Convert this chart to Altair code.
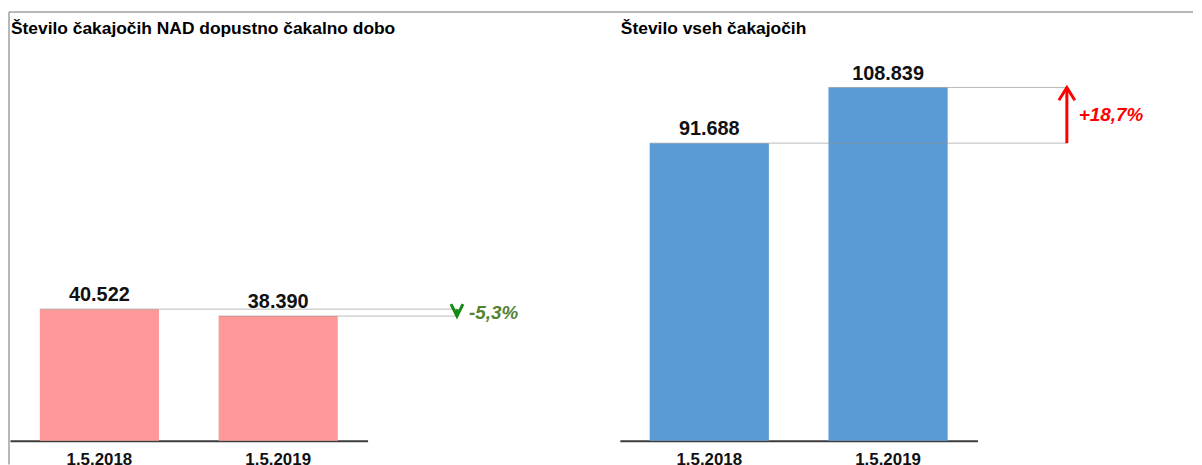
import altair as alt
import pandas as pd

# ---- data ----
dates = ["1.5.2018", "1.5.2019"]
over_limit = [40522, 38390]
all_waiting = [91688, 108839]
title_left = "Število čakajočih NAD dopustno čakalno dobo"
title_right = "Število vseh čakajočih"

FONT = "Liberation Sans"
W, H = 360, 392
Y_MAX = 120000
ARROW_X = 450
PCT_X = ARROW_X + 12


def fmt_int(v):
    return f"{v:,}".replace(",", ".")


def fmt_pct(a, b):
    p = (b / a - 1) * 100
    return f"{p:+.1f}".replace(".", ",") + "%"


def panel(values, title, bar_color, arrow_color, pct_color, with_frame=False):
    bars_df = pd.DataFrame({"date": dates, "value": values,
                            "label": [fmt_int(v) for v in values]})
    a, b = values
    ann_df = pd.DataFrame({"start": [a], "end": [b], "mid": [(a + b) / 2],
                           "pct": [fmt_pct(a, b)], "title": [title]})
    xs = alt.Scale(domain=dates, paddingInner=1 / 3, paddingOuter=1 / 6)
    ys = alt.Scale(domain=[0, Y_MAX], nice=False, zero=True)
    x_axis = alt.Axis(title=None, ticks=False, tickSize=0, labelAngle=0,
                      labelPadding=11, labelFontSize=17, labelFontWeight="bold",
                      labelFont=FONT, labelColor="#111111",
                      domainColor="#3c3c3c", domainWidth=2, grid=False)
    base = alt.Chart(bars_df)
    bars = base.mark_bar(color=bar_color).encode(
        x=alt.X("date:N", scale=xs, sort=dates, axis=x_axis),
        y=alt.Y("value:Q", scale=ys, axis=None),
    )
    labels = base.mark_text(baseline="alphabetic", dy=-8, font=FONT, fontSize=20,
                            fontWeight="bold", color="#111111").encode(
        x=alt.X("date:N", scale=xs, sort=dates),
        y=alt.Y("value:Q", scale=ys),
        text="label:N",
    )
    guides = base.mark_rule(color="#8c8c8c", opacity=0.6, strokeWidth=1).encode(
        x=alt.X("date:N", scale=xs, sort=dates, bandPosition=0),
        x2=alt.value(ARROW_X),
        y=alt.Y("value:Q", scale=ys),
    )
    ann = alt.Chart(ann_df)
    shaft = ann.mark_rule(color=arrow_color, strokeWidth=3).encode(
        x=alt.value(ARROW_X),
        y=alt.Y("start:Q", scale=ys),
        y2="end:Q",
    )
    if b >= a:
        shape, size = "M-1,1.6L0,0L1,1.6", 256
    else:
        shape, size = "M-1,-2L0,0L1,-2", 144
    head = ann.mark_point(shape=shape, size=size, filled=False, strokeWidth=3,
                          opacity=1, color=arrow_color).encode(
        x=alt.value(ARROW_X),
        y=alt.Y("end:Q", scale=ys),
    )
    pct = ann.mark_text(align="left", baseline="middle", font=FONT, fontSize=19,
                        fontWeight="bold", fontStyle="italic", color=pct_color).encode(
        x=alt.value(PCT_X),
        y=alt.Y("mid:Q", scale=ys),
        text="pct:N",
    )
    title_mark = ann.mark_text(align="left", baseline="alphabetic", font=FONT,
                               fontSize=17.5, fontWeight="bold", color="#000000").encode(
        x=alt.value(1), y=alt.value(-17.5), text="title:N")
    layers = [bars, guides, labels, shaft, head, pct, title_mark]
    if with_frame:
        frame_df = pd.DataFrame({"k": [0]})
        top_line = alt.Chart(frame_df).mark_rule(color="#a0a0a0", strokeWidth=1.5).encode(
            x=alt.value(-1), x2=alt.value(1191), y=alt.value(-39.5))
        left_line = alt.Chart(frame_df).mark_rule(color="#a0a0a0", strokeWidth=1.5).encode(
            x=alt.value(-1), y=alt.value(-39.5), y2=alt.value(H + 24))
        layers = [top_line, left_line] + layers
    return alt.layer(*layers).properties(
        width=W, height=H,
        view=alt.ViewBackground(stroke="transparent", strokeWidth=0),
    )


left = panel(over_limit, title_left, "#FF9999", "#138A13", "#548235", with_frame=True)
right = panel(all_waiting, title_right, "#5B9BD5", "#FF0000", "#FF0000")

chart = alt.hconcat(left, right, spacing=254, bounds="flush").properties(
    padding={"top": 1, "left": 0, "right": 0, "bottom": 0}
).configure_view(stroke="transparent", strokeWidth=0).configure(font=FONT)

chart.save("out.html", embed_options={"renderer": "svg", "actions": False})
